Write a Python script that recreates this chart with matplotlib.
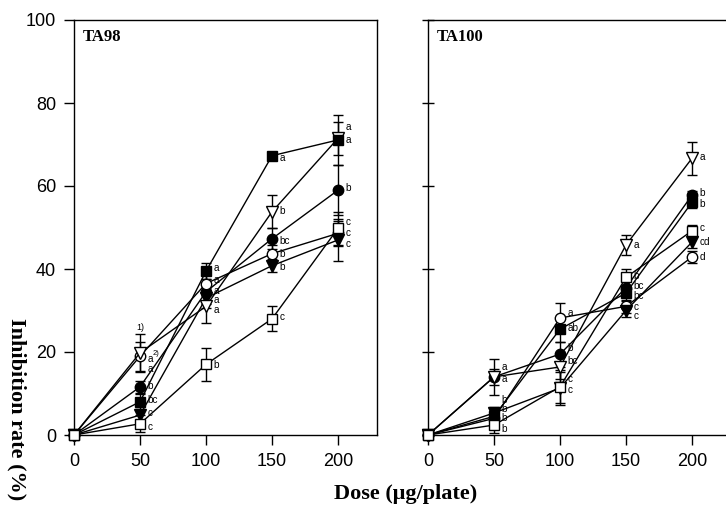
import matplotlib
matplotlib.use("Agg")
import matplotlib.pyplot as plt

doses = [0, 50, 100, 150, 200]
series_styles = ["filled_circle", "open_circle", "filled_tri", "open_tri", "filled_sq", "open_sq"]

# TA98 values (%) and SD
ta98_fc = [0, 11.6, 34.5, 47.3, 59.0]
ta98_oc = [0, 19.0, 36.5, 43.7, 48.6]
ta98_ft = [0, 4.8, 33.0, 40.8, 47.0]
ta98_ot = [0, 19.8, 31.0, 53.8, 71.5]
ta98_fs = [0, 8.0, 39.5, 67.3, 71.1]
ta98_os = [0, 2.7, 17.0, 28.0, 49.8]
ta98_fc_e = [0, 1.5, 3.0, 2.5, 6.0]
ta98_oc_e = [0, 3.5, 3.0, 2.0, 3.0]
ta98_ft_e = [0, 1.5, 2.5, 1.5, 5.0]
ta98_ot_e = [0, 4.5, 4.0, 4.0, 4.0]
ta98_fs_e = [0, 2.0, 2.0, 1.0, 6.0]
ta98_os_e = [0, 2.0, 4.0, 3.0, 4.0]

# TA100 values (%) and SD
ta100_fc = [0, 14.0, 19.5, 35.5, 57.8]
ta100_oc = [0, 4.0, 28.2, 31.0, 42.9]
ta100_ft = [0, 5.3, 11.3, 30.0, 46.5]
ta100_ot = [0, 14.0, 16.4, 45.8, 66.7]
ta100_fs = [0, 4.5, 25.5, 34.2, 56.1]
ta100_os = [0, 2.4, 11.6, 38.0, 49.2]
ta100_fc_e = [0, 2.0, 3.0, 2.0, 1.0]
ta100_oc_e = [0, 1.5, 3.5, 1.5, 1.5]
ta100_ft_e = [0, 1.5, 4.0, 1.5, 1.5]
ta100_ot_e = [0, 4.3, 3.0, 2.5, 4.0]
ta100_fs_e = [0, 1.5, 3.0, 2.0, 1.5]
ta100_os_e = [0, 2.0, 4.0, 2.0, 1.5]

# significance letters (dose, label y, text)
ta98_lab_x = [50, 50, 50, 50, 50, 50, 100, 100, 100, 100, 100, 100,
              150, 150, 150, 150, 150, 150, 200, 200, 200, 200, 200, 200]
ta98_lab_y = [18.3, 15.8, 11.8, 8.4, 5.2, 2.0, 40.3, 37.3, 34.8, 32.6, 30.2, 16.8,
              66.7, 54.0, 46.7, 43.6, 40.4, 28.4, 74.2, 71.1, 59.5, 51.3, 48.6, 46.0]
ta98_lab_t = ["a", "a", "b", "bc", "c", "c", "a", "a", "a", "a", "a", "b",
              "a", "b", "bc", "b", "b", "c", "a", "a", "b", "c", "c", "c"]
ta100_lab_x = [50, 50, 50, 50, 50, 50, 100, 100, 100, 100, 100, 100,
               150, 150, 150, 150, 150, 150, 200, 200, 200, 200, 200, 200]
ta100_lab_y = [16.4, 13.5, 8.4, 6.2, 4.0, 1.4, 29.4, 25.8, 20.9, 17.9, 13.4, 10.8,
               45.8, 38.3, 35.9, 33.4, 30.9, 28.6, 67.0, 58.4, 55.6, 49.9, 46.5, 42.9]
ta100_lab_t = ["a", "a", "b", "b", "b", "b", "a", "ab", "b", "bc", "c", "c",
               "a", "b", "bc", "bc", "c", "c", "a", "b", "b", "c", "cd", "d"]

yticks = [0, 20, 40, 60, 80, 100]
xticks = [0, 50, 100, 150, 200]

marker_map = {
    "filled_circle": ("o", "black"),
    "open_circle": ("o", "white"),
    "filled_tri": ("v", "black"),
    "open_tri": ("v", "white"),
    "filled_sq": ("s", "black"),
    "open_sq": ("s", "white"),
}

W, H = 726, 507
fig = plt.figure(figsize=(W / 100, H / 100), dpi=100)
axw = 303 / W
axh = 415 / H
axb = (H - 435) / H
ax1 = fig.add_axes([74 / W, axb, axw, axh])
ax2 = fig.add_axes([428 / W, axb, axw, axh])

sans = "Liberation Sans"
serif = "Liberation Serif"

def draw(ax, vals, errs, labx, laby, labt, title, ylabels):
    for key, v, e in zip(series_styles, vals, errs):
        m, fc = marker_map[key]
        ax.errorbar(doses, v, yerr=e, color="black", lw=1.0, elinewidth=1.0,
                    capsize=3.8, capthick=1.0, marker=m, mfc=fc, mec="black",
                    mew=1.0, ms=7.5 if m != "v" else 8.5, zorder=3, clip_on=False)
    for x, y, t in zip(labx, laby, labt):
        ax.text(x + 5.5, y, t, fontsize=7.2, family=sans, va="center", ha="left")
    ax.set_xlim(0, 229.5)
    ax.set_ylim(0, 100)
    ax.set_xticks(xticks)
    ax.set_yticks(yticks)
    ax.tick_params(direction="out", length=7, width=1.0, labelsize=13, pad=6)
    for lab in ax.get_xticklabels() + ax.get_yticklabels():
        lab.set_family(sans)
    if not ylabels:
        ax.tick_params(axis="y", labelleft=False, direction="inout", length=9)
    for s in ax.spines.values():
        s.set_linewidth(1.0)
    ax.text(0.03, 0.978, title, transform=ax.transAxes, fontsize=12,
            fontweight="bold", family=serif, va="top", ha="left")

draw(ax1, [ta98_fc, ta98_oc, ta98_ft, ta98_ot, ta98_fs, ta98_os],
     [ta98_fc_e, ta98_oc_e, ta98_ft_e, ta98_ot_e, ta98_fs_e, ta98_os_e],
     ta98_lab_x, ta98_lab_y, ta98_lab_t, "TA98", True)
draw(ax2, [ta100_fc, ta100_oc, ta100_ft, ta100_ot, ta100_fs, ta100_os],
     [ta100_fc_e, ta100_oc_e, ta100_ft_e, ta100_ot_e, ta100_fs_e, ta100_os_e],
     ta100_lab_x, ta100_lab_y, ta100_lab_t, "TA100", False)

# footnote markers on TA98
ax1.text(50, 25.8, "1)", fontsize=6.5, family=sans, ha="center", va="center")
ax1.text(50 + 9.8, 19.6, "2)", fontsize=5.5, family=sans, ha="left", va="center")

fig.text(17 / W, (H - 409) / H, "Inhibition rate (%)", rotation=270, fontsize=16,
         fontweight="bold", family=serif, ha="center", va="center")
fig.text(406 / W, (H - 494) / H, "Dose (\u03bcg/plate)", fontsize=16,
         fontweight="bold", family=serif, ha="center", va="center")

fig.savefig("out.png", dpi=100)
